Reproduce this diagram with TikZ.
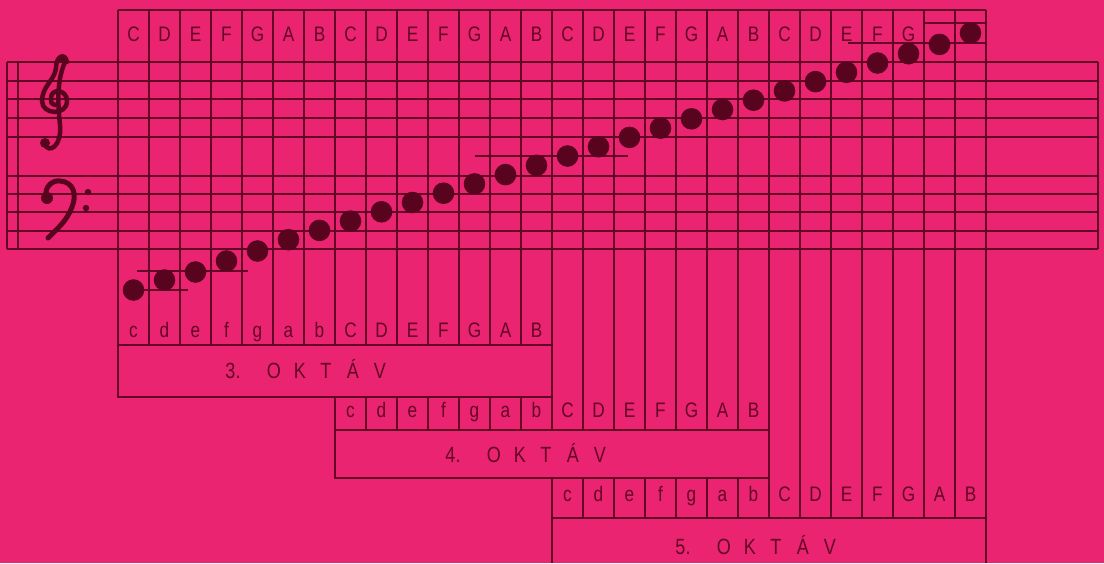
\documentclass[tikz,border=0pt]{standalone}
\usepackage{fontspec}
\newfontfamily\lblfont[FakeStretch=0.82]{Liberation Sans}
\definecolor{bg}{RGB}{234,36,112}
\definecolor{ink}{RGB}{100,6,38}
\definecolor{dotc}{RGB}{88,4,30}
\tikzset{
  gridline/.style={draw=ink,line width=1.8pt},
  staffline/.style={draw=ink,line width=2pt},
  ledger/.style={draw=ink,line width=1.8pt},
  notedot/.style={fill=dotc},
  clef/.style={draw=dotc,line width=4.5pt,line cap=round},
  lbl/.style={font=\lblfont\fontsize{21}{21}\selectfont,text=ink,anchor=base,inner sep=0pt},
  oktlbl/.style={font=\lblfont\fontsize{22}{22}\selectfont,text=ink,anchor=base,inner sep=0pt}
}
\begin{document}
\begin{tikzpicture}[x=1pt,y=-1pt]
\fill[bg] (0,0) rectangle (1104,563);
\useasboundingbox (0,0) rectangle (1104,563);
% staff
\foreach \y in {62,80.5,99,118,137,176,194,212,230.5,249}
  \draw[staffline] (7,\y) -- (1098,\y);
\foreach \x in {7,18,1098}
  \draw[staffline] (\x,62) -- (\x,249);
% top frame
\draw[gridline] (118,10) -- (986,10);
% vertical column lines
\draw[gridline] (118,10) -- (118,397);
\foreach \b in {1,...,6} \draw[gridline] ({118+31*\b},10) -- ({118+31*\b},345);
\draw[gridline] (335,10) -- (335,345) (335,397) -- (335,478);
\foreach \b in {8,...,13} \draw[gridline] ({118+31*\b},10) -- ({118+31*\b},345) ({118+31*\b},397) -- ({118+31*\b},430);
\draw[gridline] (552,10) -- (552,430) (552,478) -- (552,563);
\foreach \b in {15,...,20} \draw[gridline] ({118+31*\b},10) -- ({118+31*\b},430) ({118+31*\b},478) -- ({118+31*\b},518);
\foreach \b in {21,...,27} \draw[gridline] ({118+31*\b},10) -- ({118+31*\b},518);
\draw[gridline] (986,10) -- (986,563);
% octave boxes
\draw[gridline] (118,345) rectangle (552,397);
\draw[gridline] (335,430) rectangle (769,478);
\draw[gridline] (552,518) -- (986,518);
% ledger lines
\draw[ledger] (124,290) -- (188,290);
\draw[ledger] (137,271) -- (248,271);
\draw[ledger] (475,156) -- (628,156);
\draw[ledger] (848,43) -- (986,43);
\draw[ledger] (924,23) -- (986,23);
% note dots
\foreach \y [count=\i from 0] in {290,280,272,261,251}
  \fill[notedot] ({133.5+31*\i},\y) circle[radius=10.8pt];
\foreach \i in {5,...,26}
  \fill[notedot] ({133.5+31*\i},{249-(\i-4)*9.3}) circle[radius=10.8pt];
\fill[notedot] (970.5,33) circle[radius=10.8pt];
% treble clef
\draw[clef] (67,62) .. controls (65,52) and (56,56) .. (56,68)
  .. controls (55,80) and (42,86) .. (42,101)
  .. controls (42,115) and (67,116) .. (67,101)
  .. controls (67,89) and (51,88) .. (51,98)
  .. controls (51,103) .. (55,105);
\draw[clef] (66,60) .. controls (56,80) and (58,105) .. (60,125)
  .. controls (62,147) and (48,154) .. (45,144);
\fill[dotc] (64,60) circle[radius=4pt];
\fill[dotc] (45,143) circle[radius=5pt];
% bass clef
\draw[clef,line width=5pt] (46,198) .. controls (44,185) and (54,180) .. (60,181)
  .. controls (74,182) and (77,195) .. (72,207)
  .. controls (67,221) and (56,230) .. (48,238);
\fill[dotc] (47,198) circle[radius=6pt];
\fill[dotc] (88,192) circle[radius=3.2pt];
\fill[dotc] (86,208) circle[radius=3.2pt];
% column letters
\foreach \l [count=\i from 0] in {C,D,E,F,G,A,B,C,D,E,F,G,A,B,C,D,E,F,G,A,B,C,D,E,F,G}
  \node[lbl] (top\i) at ({133.5+31*\i},41.5) {\l};
\foreach \l [count=\i from 0] in {c,d,e,f,g,a,b,C,D,E,F,G,A,B}{
  \node[lbl] (oa\i) at ({133.5+31*\i},337) {\l};
  \node[lbl] (ob\i) at ({133.5+31*(\i+7)},417) {\l};
  \node[lbl] (oc\i) at ({133.5+31*(\i+14)},501) {\l};
}
% octave labels
\foreach \n/\x/\y in {3/233/378,4/453/462,5/683/554}{
  \foreach \c/\d [count=\k] in {\n./0,O/41,K/67,T/93,Á/120,V/147}
    \node[oktlbl] (okt\n-\k) at ({\x+\d},\y) {\c};
}
\end{tikzpicture}
\end{document}
